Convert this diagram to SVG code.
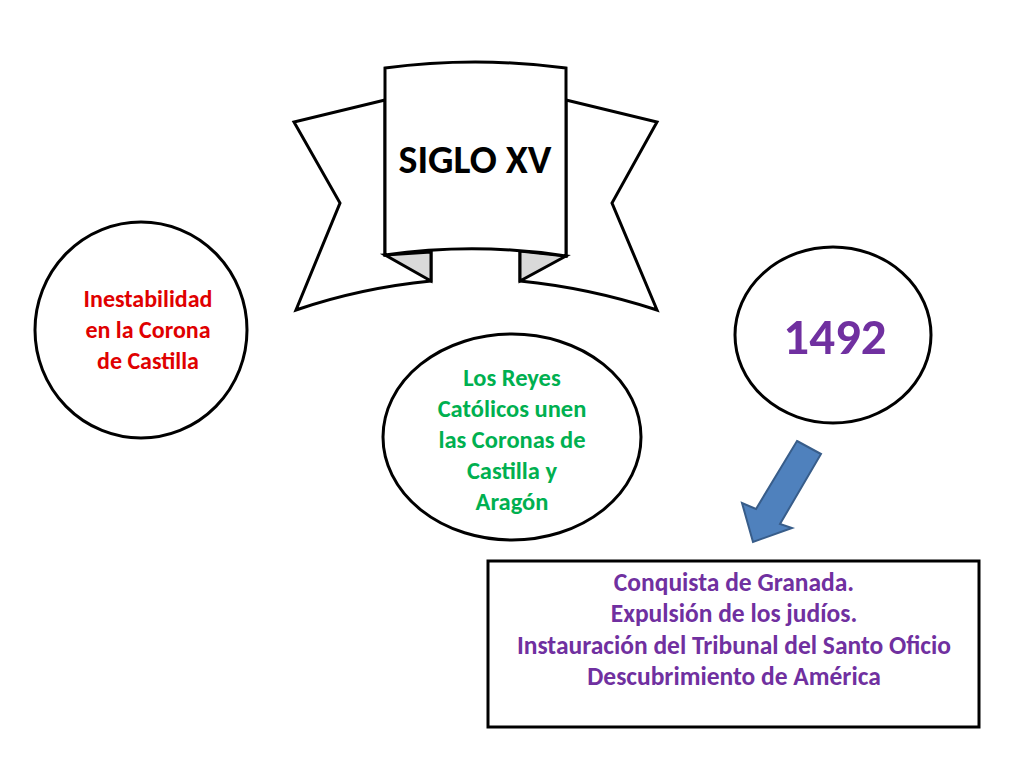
<svg xmlns="http://www.w3.org/2000/svg" width="1024" height="768" viewBox="0 0 1024 768">
<style>
.s{fill:#fff;stroke:#000;stroke-width:3;stroke-linejoin:miter}
.f{fill:#d9d9d9;stroke:#000;stroke-width:3}
text{font-family:Calibri,Carlito,"Open Sans","Liberation Sans",sans-serif;font-weight:bold;text-anchor:middle}
</style>
<rect width="1024" height="768" fill="#fff"/>
<g id="banner">
<path class="s" d="M385,100 L294,122 L340,203 L296,310 Q360,288 431,281 L431,252 L385,255 Z"/>
<path class="s" d="M566,100 L657,122 L612,203 L657,310 Q590,288 520,281 L520,251 L566,256 Z"/>
<path class="f" d="M385,255 L431,281 L431,252 Z"/>
<path class="f" d="M566,256 L520,281 L520,251 Z"/>
<path class="s" d="M385,68 Q475,56 566,68 L566,256 Q475,242 385,255 Z"/>
<text x="475" y="173" font-size="40" fill="#000">SIGLO XV</text>
</g>
<g id="n1">
<ellipse class="s" cx="141" cy="330" rx="106" ry="108"/>
<text font-size="24" fill="#e00000"><tspan x="148" y="307">Inestabilidad</tspan><tspan x="148" y="338">en la Corona</tspan><tspan x="148" y="369">de Castilla</tspan></text>
</g>
<g id="n2">
<ellipse class="s" cx="512" cy="437" rx="129" ry="103"/>
<text font-size="24.5" fill="#00b050"><tspan x="512" y="386">Los Reyes</tspan><tspan x="512" y="417">Católicos unen</tspan><tspan x="512" y="448">las Coronas de</tspan><tspan x="512" y="479">Castilla y</tspan><tspan x="512" y="510">Aragón</tspan></text>
</g>
<g id="n3">
<ellipse class="s" cx="833" cy="335" rx="98" ry="88"/>
<text x="835" y="354" font-size="51" fill="#7030a0">1492</text>
</g>
<g id="connectors">
<path d="M797,441 L821,454 L780,524 L792,528 L753,542 L742,503 L756,509 Z" fill="#4f81bd" stroke="#385d8a" stroke-width="2"/>
</g>
<g id="n4">
<rect class="s" x="488" y="561" width="491" height="166"/>
<text font-size="25.5" fill="#7030a0"><tspan x="734" y="591">Conquista de Granada.</tspan><tspan x="734" y="622">Expulsión de los judíos.</tspan><tspan x="734" y="654">Instauración del Tribunal del Santo Oficio</tspan><tspan x="734" y="685">Descubrimiento de América</tspan></text>
</g>
</svg>
